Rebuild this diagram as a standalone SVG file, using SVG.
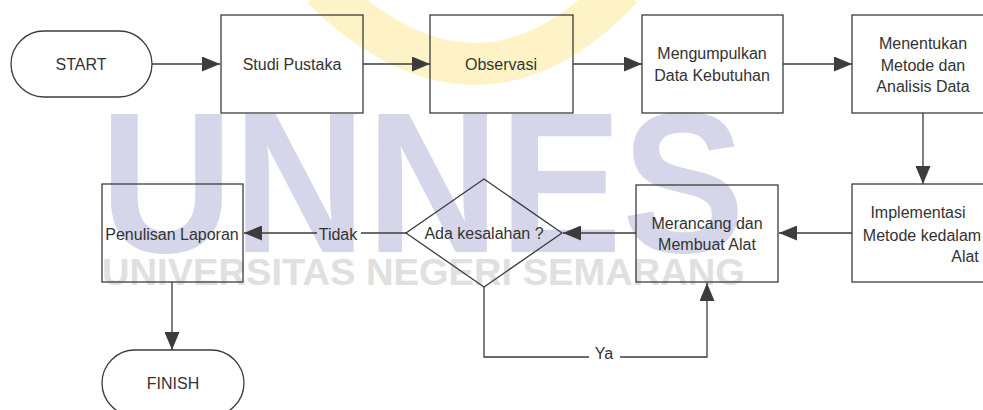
<svg xmlns="http://www.w3.org/2000/svg" width="983" height="410" viewBox="0 0 983 410">
<style>
.box{fill:none;stroke:#3c3c3c;stroke-width:1.3}
.ln{fill:none;stroke:#3c3c3c;stroke-width:1.3}
.t{font-family:"Liberation Sans",Arial,sans-serif;font-size:16px;fill:#333;text-anchor:middle}
.wm{font-family:"Liberation Sans",Arial,sans-serif;font-weight:bold}
</style>
<defs>
<marker id="ah" markerUnits="userSpaceOnUse" markerWidth="18" markerHeight="15" refX="18" refY="7.5" orient="auto">
<path d="M0,0 L18,7.5 L0,15 z" fill="#3c3c3c"/>
</marker>
</defs>
<rect width="983" height="410" fill="#fff"/>
<g id="watermark">
<path d="M322,-12 Q478,140 622,-12" fill="none" stroke="#fdf3c6" stroke-width="42"/>
<text class="wm" x="100" y="252" font-size="200" fill="#d6d6ea" textLength="645" lengthAdjust="spacingAndGlyphs">UNNES</text>
<text class="wm" x="102" y="285" font-size="36" fill="#e0e0e0" textLength="643" lengthAdjust="spacingAndGlyphs">UNIVERSITAS NEGERI SEMARANG</text>
</g>
<g id="connectors">
<path class="ln" d="M152,64 H220" marker-end="url(#ah)"/>
<path class="ln" d="M363,64 H430" marker-end="url(#ah)"/>
<path class="ln" d="M573,64 H642" marker-end="url(#ah)"/>
<path class="ln" d="M783,64 H852" marker-end="url(#ah)"/>
<path class="ln" d="M923,113 V184" marker-end="url(#ah)"/>
<path class="ln" d="M852,233 H779" marker-end="url(#ah)"/>
<path class="ln" d="M636,233 H563" marker-end="url(#ah)"/>
<path class="ln" d="M406,233 H361"/>
<path class="ln" d="M317,233 H244" marker-end="url(#ah)"/>
<text class="t" x="338" y="240">Tidak</text>
<path class="ln" d="M484,287 V357 H589"/>
<path class="ln" d="M620,357 H707 V283" marker-end="url(#ah)"/>
<text class="t" x="604" y="359">Ya</text>
<path class="ln" d="M172,282 V350" marker-end="url(#ah)"/>
</g>
<g id="start">
<rect class="box" x="11" y="31" width="141" height="66" rx="33" ry="33"/>
<text class="t" x="81" y="70">START</text>
</g>
<g id="studi">
<rect class="box" x="221" y="15" width="142" height="98"/>
<text class="t" x="292" y="70">Studi Pustaka</text>
</g>
<g id="observasi">
<rect class="box" x="430" y="15" width="143" height="98"/>
<text class="t" x="501" y="70">Observasi</text>
</g>
<g id="mengumpulkan">
<rect class="box" x="642" y="15" width="141" height="98"/>
<text class="t" x="712" y="59">Mengumpulkan</text>
<text class="t" x="712" y="81">Data Kebutuhan</text>
</g>
<g id="menentukan">
<rect class="box" x="852" y="15" width="142" height="98"/>
<text class="t" x="923" y="49">Menentukan</text>
<text class="t" x="923" y="71">Metode dan</text>
<text class="t" x="923" y="92">Analisis Data</text>
</g>
<g id="implementasi">
<rect class="box" x="852" y="184" width="142" height="98"/>
<text class="t" x="918" y="218">Implementasi</text>
<text class="t" x="922" y="241">Metode kedalam</text>
<text class="t" x="965" y="262">Alat</text>
</g>
<g id="merancang">
<rect class="box" x="636" y="185" width="142" height="97"/>
<text class="t" x="707" y="229">Merancang dan</text>
<text class="t" x="707" y="250">Membuat Alat</text>
</g>
<g id="decision">
<path class="box" d="M484,179 L562,233 L484,287 L406,233 Z"/>
<text class="t" x="484" y="239">Ada kesalahan ?</text>
</g>
<g id="penulisan">
<rect class="box" x="102" y="184" width="141" height="98"/>
<text class="t" x="172" y="240">Penulisan Laporan</text>
</g>
<g id="finish">
<rect class="box" x="102" y="350" width="142" height="66" rx="33" ry="33"/>
<text class="t" x="173" y="389">FINISH</text>
</g>
</svg>
